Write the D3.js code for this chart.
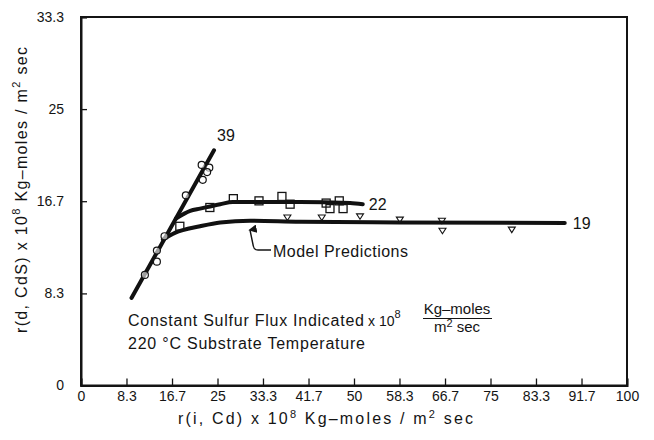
<!DOCTYPE html>
<html><head><meta charset="utf-8">
<script src="https://cdn.jsdelivr.net/npm/d3@7"></script>
<style>
body{margin:0;background:#fff}
svg{display:block;background:#fff}
text{font-family:"Liberation Sans",Arial,sans-serif;fill:#141414}
</style>
</head><body>
<svg id="chart" width="654" height="440"></svg>
<script>
// ---- data ----
const xTickValues = [0, 8.33, 16.67, 25, 33.33, 41.67, 50, 58.33, 66.67, 75, 83.33, 91.67, 100];
const xTickLabels = ["0","8.3","16.7","25","33.3","41.7","50","58.3","66.7","75","83.3","91.7","100"];
const yTickValues = [0, 8.33, 16.67, 25, 33.33];
const yTickLabels = ["0","8.3","16.7","25","33.3"];

// flux 39: straight fitted line and circle data
const line39 = [[9.25, 7.92], [24.36, 21.27]];
const circles39 = [[22.1,19.95],[23.5,19.7],[23.1,19.3],[22.3,18.6],[19.2,17.2],[15.3,13.5],[13.9,12.2],[13.9,11.2],[11.7,10.0]];

// flux 22: model curve and square data
const curve22 = [[17.4,15.1],[20.0,15.8],[21.8,16.0],[25.5,16.4],[27.8,16.6],[32.8,16.6],[40.1,16.6],[49.3,16.5],[51.6,16.4]];
const squares22 = [[18.1,14.4],[23.6,16.1],[27.9,16.9],[32.6,16.7],[36.8,17.1],[38.3,16.4],[44.9,16.5],[45.6,16.0],[47.3,16.7],[48.0,16.0]];

// flux 19: model curve and triangle data
const curve19 = [[15.0,13.2],[17.2,13.8],[21.8,14.4],[25.5,14.75],[31.0,14.9],[40.1,14.8],[58.4,14.75],[88.6,14.7]];
const triangles19 = [[37.8,15.2],[44.1,15.2],[51.1,15.3],[58.4,15.0],[66.1,14.9],[66.2,14.0],[78.9,14.1]];

const seriesLabels = ["39","22","19"];

// ---- layout ----
const svg = d3.select("#chart");
const L = 81, R = 627, T = 17, B = 385.5;
const x = d3.scaleLinear().domain([0,100]).range([L,R]);
const y = d3.scaleLinear().domain([0,33.33]).range([B,T]);

// frame
svg.append("rect").attr("x",L).attr("y",T).attr("width",R-L).attr("height",B-T)
  .attr("fill","none").attr("stroke","#141414").attr("stroke-width",2);

// axes
const xAxis = svg.append("g").attr("transform",`translate(0,${B})`)
  .call(d3.axisBottom(x).tickValues(xTickValues).tickFormat((d,i)=>xTickLabels[i]).tickSize(-7).tickPadding(6));
const yAxis = svg.append("g").attr("transform",`translate(${L},0)`)
  .call(d3.axisLeft(y).tickValues(yTickValues).tickFormat((d,i)=>yTickLabels[i]).tickSize(-6).tickPadding(17));
[xAxis,yAxis].forEach(g=>{
  g.select(".domain").attr("stroke","#141414").attr("stroke-width",2);
  g.selectAll(".tick line").attr("stroke","#141414").attr("stroke-width",1.3);
  g.selectAll(".tick text").attr("font-size",14).attr("fill","#141414")
    .style("font-family","'Liberation Sans',Arial,sans-serif");
});

// axis titles
const xt = svg.append("text").attr("x",178).attr("y",424).attr("font-size",16)
  .attr("textLength",295).attr("lengthAdjust","spacing");
xt.append("tspan").text("r(i, Cd)  x 10");
xt.append("tspan").attr("dy",-6).attr("font-size",11).text("8");
xt.append("tspan").attr("dy",6).text("  Kg\u2013moles / m");
xt.append("tspan").attr("dy",-6).attr("font-size",11).text("2");
xt.append("tspan").attr("dy",6).text("  sec");

const yt = svg.append("text").attr("transform","translate(27,333) rotate(-90)").attr("font-size",16)
  .attr("textLength",286).attr("lengthAdjust","spacing");
yt.append("tspan").text("r(d, CdS)  x 10");
yt.append("tspan").attr("dy",-7).attr("font-size",11).text("8");
yt.append("tspan").attr("dy",7).text(" Kg\u2013moles / m");
yt.append("tspan").attr("dy",-7).attr("font-size",11).text("2");
yt.append("tspan").attr("dy",7).text("  sec");

// lines
const lineGen = d3.line().x(d=>x(d[0])).y(d=>y(d[1])).curve(d3.curveMonotoneX);
const lineStyle = sel => sel.attr("fill","none").attr("stroke","#111").attr("stroke-width",4).attr("stroke-linecap","round");
svg.append("path").datum(line39).attr("d",d3.line().x(d=>x(d[0])).y(d=>y(d[1]))).call(lineStyle);
svg.append("path").datum(curve22).attr("d",lineGen).call(lineStyle);
svg.append("path").datum(curve19).attr("d",lineGen).call(lineStyle);

// markers
const mk = "#141414";
svg.append("g").selectAll("circle").data(circles39).join("circle")
  .attr("cx",d=>x(d[0])).attr("cy",d=>y(d[1])).attr("r",3.5)
  .attr("fill","#fff").attr("fill-opacity",0.6).attr("stroke",mk).attr("stroke-width",1.2);
svg.append("g").selectAll("rect").data(squares22).join("rect")
  .attr("x",d=>x(d[0])-4).attr("y",d=>y(d[1])-4).attr("width",8).attr("height",8)
  .attr("fill","none").attr("stroke",mk).attr("stroke-width",1.3);
svg.append("g").selectAll("path").data(triangles19).join("path")
  .attr("d",d=>{const cx=x(d[0]),cy=y(d[1]);return `M${cx-3.5},${cy-2.5}L${cx+3.5},${cy-2.5}L${cx},${cy+3}Z`;})
  .attr("fill","none").attr("stroke",mk).attr("stroke-width",1.1);

// series labels
const lblPos = [[line39[1][0], line39[1][1], 3, -9],
                [curve22[curve22.length-1][0], curve22[curve22.length-1][1], 6, 6],
                [curve19[curve19.length-1][0], curve19[curve19.length-1][1], 8, 6]];
seriesLabels.forEach((s,i)=>{
  svg.append("text").attr("x",x(lblPos[i][0])+lblPos[i][2]).attr("y",y(lblPos[i][1])+lblPos[i][3])
    .attr("font-size",16).text(s);
});

// model predictions annotation
svg.append("defs").append("marker").attr("id","ah").attr("viewBox","0 0 10 10")
  .attr("refX",5).attr("refY",2).attr("markerWidth",6).attr("markerHeight",6).attr("orient","auto-start-reverse")
  .append("path").attr("d","M0,10L5,0L10,10Z").attr("fill","#141414");
svg.append("path").attr("d","M271,250 L258,250 Q254,250 253.3,246 L250,230")
  .attr("fill","none").attr("stroke","#141414").attr("stroke-width",1.4)
  .attr("marker-end","url(#ah)");
svg.append("text").attr("x",273).attr("y",257).attr("font-size",16)
  .attr("textLength",135).attr("lengthAdjust","spacing").text("Model  Predictions");

// conditions note
svg.append("text").attr("x",128).attr("y",326).attr("font-size",16)
  .attr("textLength",236).attr("lengthAdjust","spacing").text("Constant  Sulfur  Flux  Indicated");
const xn = svg.append("text").attr("x",368).attr("y",326).attr("font-size",14);
xn.append("tspan").text("x 10");
xn.append("tspan").attr("dy",-8).attr("font-size",11).text("8");
svg.append("text").attr("x",457).attr("y",314).attr("font-size",15).attr("text-anchor","middle").text("Kg\u2013moles");
svg.append("line").attr("x1",423).attr("x2",492).attr("y1",318.5).attr("y2",318.5).attr("stroke","#141414").attr("stroke-width",1.2);
const den = svg.append("text").attr("x",457).attr("y",332).attr("font-size",15).attr("text-anchor","middle");
den.append("tspan").text("m");
den.append("tspan").attr("dy",-5).attr("font-size",11).text("2");
den.append("tspan").attr("dy",5).text(" sec");
svg.append("text").attr("x",128).attr("y",349).attr("font-size",16)
  .attr("textLength",237).attr("lengthAdjust","spacing").text("220 \u00B0C  Substrate  Temperature");
</script>
</body></html>
